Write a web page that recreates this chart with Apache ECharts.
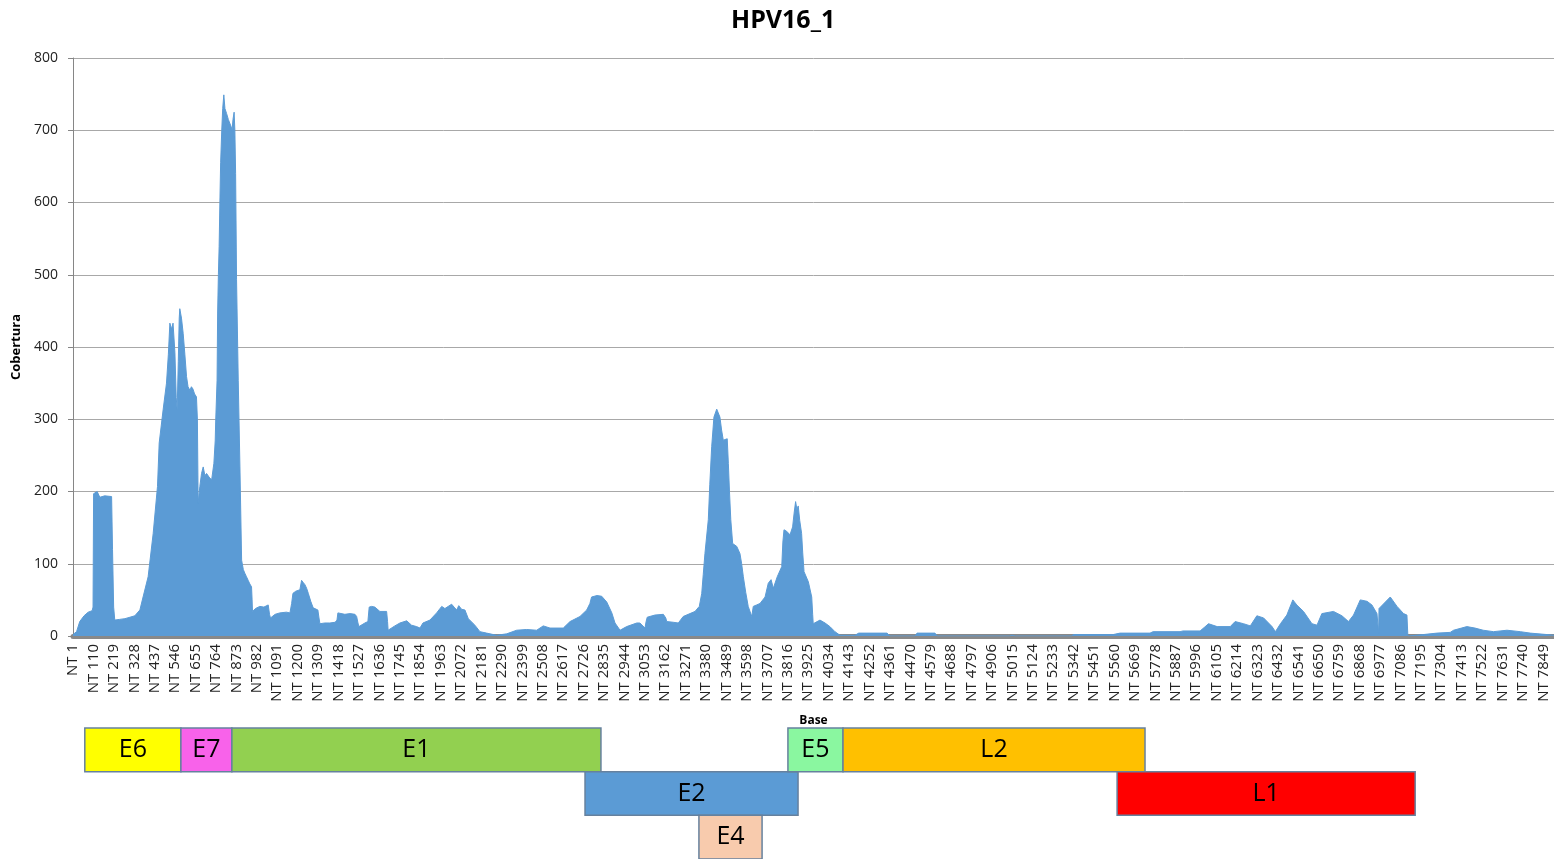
<!DOCTYPE html>
<html><head><meta charset="utf-8">
<script src="https://cdn.jsdelivr.net/npm/echarts@6/dist/echarts.min.js"></script>
<style>html,body{margin:0;padding:0;background:#fff}#c{width:1554px;height:859px}</style>
</head><body><div id="c"></div>
<script>
// Nucleotide positions (x) and coverage
const ntPos = [1,20,37,60,82,103,108,111,130,144,170,207,212,218,224,250,278,305,331,358,375,402,429,452,461,482,500,510,518,527,535,545,552,557,563,568,571,580,589,598,607,615,625,633,641,650,660,665,669,678,687,696,705,714,727,741,753,760,763,770,773,777,781,785,789,795,800,806,812,821,830,838,845,850,855,861,865,869,874,883,892,901,910,918,927,936,945,954,957,959,975,998,1020,1043,1050,1055,1080,1105,1140,1159,1168,1175,1190,1212,1221,1230,1239,1248,1257,1270,1283,1308,1314,1319,1345,1372,1400,1410,1415,1452,1480,1506,1515,1522,1527,1559,1575,1582,1595,1612,1639,1675,1680,1683,1719,1746,1782,1808,1835,1853,1869,1906,1942,1969,1986,2022,2035,2049,2060,2075,2093,2111,2146,2173,2209,2262,2316,2369,2422,2476,2511,2547,2618,2654,2707,2743,2760,2769,2798,2823,2850,2877,2894,2921,2956,3010,3027,3054,3060,3066,3107,3152,3165,3170,3205,3232,3258,3294,3321,3344,3357,3365,3374,3392,3400,3410,3422,3437,3445,3454,3463,3472,3481,3493,3499,3505,3512,3522,3530,3544,3561,3570,3579,3592,3605,3624,3632,3650,3668,3695,3712,3727,3739,3760,3784,3790,3796,3810,3828,3842,3850,3858,3865,3872,3880,3890,3896,3903,3926,3944,3949,3952,3988,4015,4041,4068,4095,4175,4195,4346,4362,4496,4506,4602,4613,5000,5013,5030,5330,5341,5553,5590,5750,5766,5910,5926,6017,6040,6062,6108,6178,6204,6249,6285,6320,6356,6401,6419,6446,6480,6512,6533,6569,6614,6641,6667,6729,6774,6809,6836,6872,6908,6934,6961,6968,6970,6972,7032,7068,7103,7121,7126,7209,7281,7352,7370,7441,7484,7528,7583,7655,7726,7779,7868,7906];
const coverage = [2,6,20,28,33,35,40,197,200,192,194,193,120,40,22,23,24,26,28,36,54,82,142,207,267,313,350,390,433,425,433,392,330,313,380,440,453,440,419,390,359,345,340,345,342,335,331,300,184,207,225,234,222,225,220,216,239,270,300,354,447,500,539,600,655,700,730,749,730,723,715,717,705,700,715,725,700,640,493,354,234,105,92,87,82,77,72,68,50,34,38,41,40,43,30,25,30,32,33,32,45,59,62,64,77,74,71,66,59,48,39,36,25,17,18,18,19,22,32,30,31,30,27,18,13,18,20,40,41,40,34,34,20,8,14,18,21,15,13,11,18,22,32,41,38,44,40,36,42,37,36,24,15,6,4,1,3,8,9,8,14,11,11,20,27,36,45,54,56,55,47,32,18,8,13,18,18,11,20,26,29,30,25,20,19,18,27,31,34,41,59,85,114,161,210,262,303,314,312,303,285,271,273,273,239,200,161,128,126,124,114,100,82,60,41,27,41,43,45,54,73,78,66,82,96,130,147,145,140,151,170,186,175,180,160,142,115,89,75,54,30,17,22,18,13,6,1,1,4,4,0,0,4,4,0,0,1,0,0,2,2,4,4,6,6,7,7,12,17,13,13,20,17,14,28,25,13,6,17,29,50,43,34,17,15,31,34,28,20,29,50,48,43,31,30,4,38,54,41,31,29,0,2,4,5,8,13,11,8,6,8,6,4,2,1];
const ntTicks = [1,110,219,328,437,546,655,764,873,982,1091,1200,1309,1418,1527,1636,1745,1854,1963,2072,2181,2290,2399,2508,2617,2726,2835,2944,3053,3162,3271,3380,3489,3598,3707,3816,3925,4034,4143,4252,4361,4470,4579,4688,4797,4906,5015,5124,5233,5342,5451,5560,5669,5778,5887,5996,6105,6214,6323,6432,6541,6650,6759,6868,6977,7086,7195,7304,7413,7522,7631,7740,7849];
const genomeEnd = 7906;
// Gene map (nucleotide start/end, row)
const geneNames = ['E6','E7','E1','E2','E4','E5','L2','L1'];
const geneStart = [64,577,849,2734,3342,3817,4111,5574];
const geneEnd   = [577,849,2819,3871,3679,4111,5723,7165];
const geneRow   = [0,0,0,1,2,0,0,1];
const geneColors = {E6:'#FFFF00',E7:'#F862EA',E1:'#92D050',E2:'#5B9BD5',E4:'#F8CBAD',E5:'#8AF7A0',L2:'#FFC000',L1:'#FF0000'};

const FONT = "'Open Sans', 'Liberation Sans', sans-serif";
const chart = echarts.init(document.getElementById('c'), null, {renderer:'canvas'});
const option = {
  animation: false,
  backgroundColor: '#fff',
  title: {text:'HPV16_1', left:726, top:3,
    textStyle:{fontFamily:FONT, fontWeight:'bold', fontSize:25, color:'#000'}},
  grid: [
    {left:73, right:0, top:58, bottom:223, containLabel:false},
    {left:73, right:0, top:728, height:132, containLabel:false}
  ],
  xAxis: [
    {type:'value', gridIndex:0, min:1, max:genomeEnd,
     axisLine:{show:true, onZero:true, lineStyle:{color:'#898989', width:5}},
     axisTick:{show:false}, splitLine:{show:false},
     axisLabel:{customValues:ntTicks, formatter:v=>'NT '+v, rotate:90, fontSize:15,
       fontFamily:FONT, color:'#222', margin:8, hideOverlap:false},
     name:'Base', nameLocation:'middle', nameGap:79,
     nameTextStyle:{fontFamily:FONT, fontWeight:'bold', fontSize:12, color:'#000'}},
    {type:'value', gridIndex:1, min:1, max:genomeEnd, show:false}
  ],
  yAxis: [
    {type:'value', gridIndex:0, min:0, max:800, interval:100,
     axisLine:{show:true, lineStyle:{color:'#868686', width:1}},
     axisTick:{show:true, length:5, lineStyle:{color:'#868686'}},
     splitLine:{show:true, lineStyle:{color:'#a8a8a8', width:1}},
     axisLabel:{fontSize:14, fontFamily:FONT, color:'#222', margin:15},
     name:'Cobertura', nameLocation:'middle', nameGap:48, nameRotate:90,
     nameTextStyle:{fontFamily:FONT, fontWeight:'bold', fontSize:13, color:'#000'}},
    {type:'value', gridIndex:1, min:0, max:3, inverse:true, show:false}
  ],
  series: [
    {type:'line', xAxisIndex:0, yAxisIndex:0, symbol:'none', showSymbol:false,
     sampling:'none', silent:true,
     data: ntPos.map((p,i)=>[p, coverage[i]]),
     lineStyle:{width:1, color:'#5B9BD5'},
     areaStyle:{color:'#5B9BD5', opacity:1}, z:2},
    {type:'custom', xAxisIndex:1, yAxisIndex:1, silent:true,
     data: geneNames.map((n,i)=>[geneStart[i], geneEnd[i], geneRow[i], i]),
     renderItem:(params, api)=>{
       const s=api.value(0), e=api.value(1), r=api.value(2), i=api.value(3);
       const p1=api.coord([s,r]), p2=api.coord([e,r+1]);
       const name=geneNames[i];
       return {type:'group', children:[
         {type:'rect', shape:{x:p1[0], y:p1[1], width:p2[0]-p1[0], height:p2[1]-p1[1]},
          style:{fill:geneColors[name], stroke:'#66819e', lineWidth:1.5}},
         {type:'text', x:(p1[0]+p2[0])/2, y:(p1[1]+p2[1])/2,
          style:{text:name, fontSize:25, fontFamily:FONT, fill:'#000',
                 align:'center', verticalAlign:'middle', textAlign:'center', textVerticalAlign:'middle'}}
       ]};
     }}
  ]
};
chart.setOption(option);
</script>
</body></html>
